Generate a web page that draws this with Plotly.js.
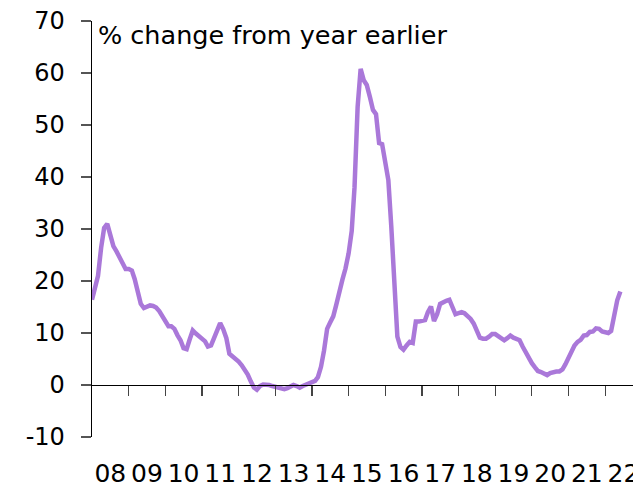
<!DOCTYPE html>
<html>
<head>
<meta charset="utf-8">
<script src="https://cdn.plot.ly/plotly-3.0.1.min.js"></script>
<style>html,body{margin:0;padding:0;background:#fff;}#chart{width:633px;height:489px;}</style>
</head>
<body>
<div id="chart"></div>
<script>
// Monthly series, Jan 2008 to Jun 2022 (% change from year earlier)
const startYear = 2008;
const values = [
  16.4, 18.5, 21.0, 26.4, 30.2, 31.0, 29.0, 26.7, 25.7, 24.5, 23.2, 22.3,
  22.3, 22.0, 20.4, 17.8, 15.6, 14.8, 15.0, 15.3, 15.2, 14.9, 14.2, 13.3,
  12.3, 11.3, 11.3, 10.8, 9.6, 8.6, 7.1, 6.9, 8.8, 10.5, 9.9, 9.4,
  9.1, 8.4, 7.4, 7.6, 9.0, 10.7, 11.9, 10.7, 9.0, 6.0, 5.5, 5.1,
  4.5, 3.8, 3.0, 2.0, 0.7, -0.5, -0.9, -0.2, 0.1, 0.1, 0.0, -0.2,
  -0.3, -0.4, -0.7, -0.8, -0.6, -0.3, 0.0, -0.2, -0.5, -0.2, 0.1, 0.4,
  0.6, 0.8, 1.5, 3.5, 6.6, 10.8, 12.0, 13.2, 15.5, 18.4, 20.3, 22.4,
  25.3, 29.6, 38.0, 53.5, 60.8, 58.6, 57.7, 55.4, 52.9, 52.1, 46.5, 46.3,
  43.3, 39.4, 30.6, 18.9, 9.3, 7.3, 6.8, 7.6, 8.3, 8.1, 12.2, 12.2,
  12.3, 12.5, 14.0, 15.1, 12.3, 13.6, 15.6, 16.0, 16.2, 16.4, 14.7, 13.6,
  13.8, 14.0, 13.8, 13.3, 12.7, 11.8, 10.2, 9.1, 8.9, 8.9, 9.3, 9.8,
  9.8, 9.4, 8.8, 8.6, 9.0, 9.5, 9.1, 8.9, 8.6, 7.4, 6.3, 5.1,
  4.2, 3.4, 2.7, 2.5, 2.2, 1.9, 2.3, 2.5, 2.6, 2.6, 3.0, 4.0,
  5.3, 6.4, 7.6, 8.3, 8.7, 9.5, 9.6, 10.2, 10.3, 10.9, 10.8, 10.3,
  10.1, 10.0, 10.4, 13.6, 16.3, 18.0
];
const yearLabels = ["08","09","10","11","12","13","14","15","16","17","18","19","20","21","22"];
const yTicks = [-10, 0, 10, 20, 30, 40, 50, 60, 70];
const yTickText = ["-10", "0", "10", "20", "30", "40", "50", "60", "70"];

const dates = values.map((v, i) => {
  const y = startYear + Math.floor(i / 12);
  const m = (i % 12) + 1;
  return y + "-" + String(m).padStart(2, "0") + "-01";
});
const boundaryTicks = yearLabels.slice(1).map((l, i) => (startYear + i + 1) + "-01-01");
const labelTicks = yearLabels.map((l, i) => (startYear + i) + "-07-02");

const xRange = ["2008-01-01", "2022-10-05"];
const FONT = "DejaVu Sans, sans-serif";

const trace = {
  x: dates, y: values, type: "scatter", mode: "lines",
  line: {color: "#AA78D9", width: 4.5, shape: "linear"},
  hoverinfo: "skip", showlegend: false
};

const layout = {
  width: 633, height: 489,
  margin: {l: 92, r: 0, t: 21, b: 52, pad: 0},
  paper_bgcolor: "#ffffff", plot_bgcolor: "#ffffff",
  showlegend: false,
  font: {family: FONT, color: "#000"},
  xaxis: {
    type: "date", range: xRange, anchor: "free", position: 0.125,
    showline: true, linecolor: "#000", linewidth: 1.3,
    showgrid: false, zeroline: false,
    tickmode: "array", tickvals: boundaryTicks,
    ticks: "outside", ticklen: 10, tickwidth: 1.3, tickcolor: "#444",
    showticklabels: false
  },
  xaxis2: {
    type: "date", range: xRange, overlaying: "x", anchor: "y", side: "bottom",
    showline: false, showgrid: false, zeroline: false,
    tickmode: "array", tickvals: labelTicks, ticktext: yearLabels,
    ticks: "", ticklabelstandoff: 19, ticklabeloverflow: "allow",
    tickfont: {family: FONT, size: 25, color: "#000"}
  },
  yaxis: {
    range: [-10, 70], domain: [0, 1],
    tickmode: "array", tickvals: yTicks, ticktext: yTickText,
    showline: true, linecolor: "#000", linewidth: 1.3,
    showgrid: false, zeroline: false,
    ticks: "outside", ticklen: 10, tickwidth: 1.3, tickcolor: "#555",
    ticklabelstandoff: 11,
    tickfont: {family: FONT, size: 24, color: "#000"}
  },
  annotations: [{
    text: "% change from year earlier", xref: "paper", yref: "paper",
    x: 0, y: 1, xanchor: "left", yanchor: "top", xshift: 4, yshift: 3,
    showarrow: false, font: {family: FONT, size: 25.5, color: "#000"}
  }]
};

const traces = [trace, {x: [dates[0]], y: [null], xaxis: "x2", yaxis: "y", type: "scatter", mode: "lines", showlegend: false, hoverinfo: "skip"}];
Plotly.newPlot("chart", traces, layout, {displayModeBar: false, staticPlot: true});
</script>
</body>
</html>
